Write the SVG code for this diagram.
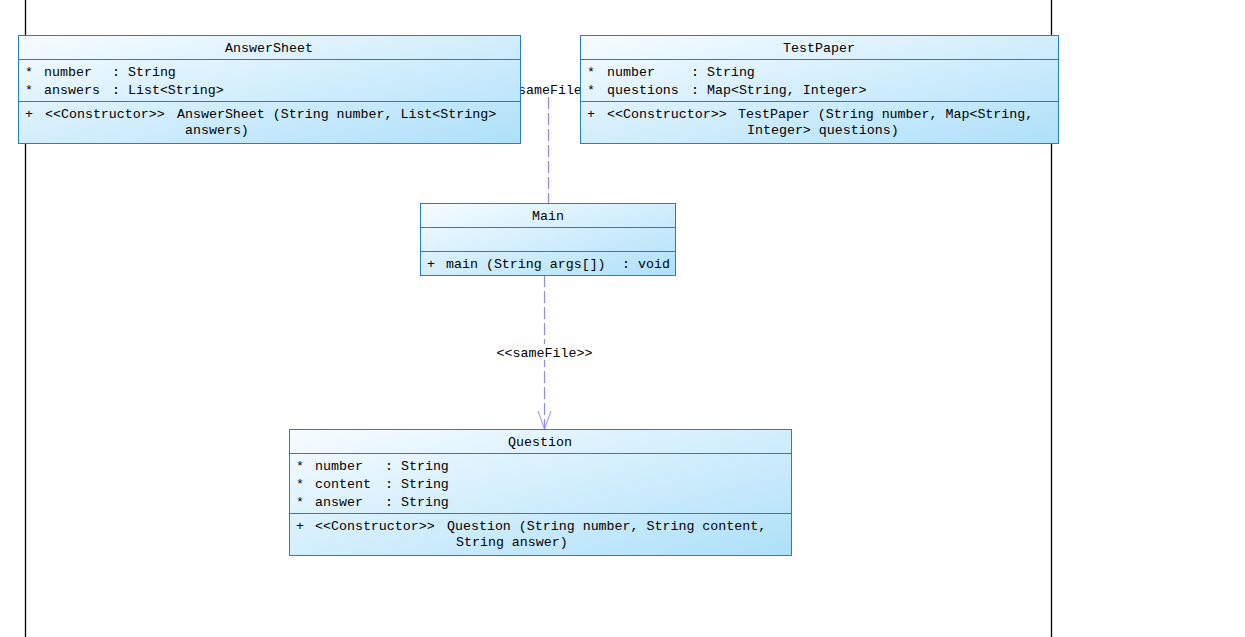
<svg xmlns="http://www.w3.org/2000/svg" width="1245" height="637" viewBox="0 0 1245 637">
<defs>
<linearGradient id="boxfill" x1="0" y1="0" x2="1" y2="1">
<stop offset="0" stop-color="#f7fcff"/>
<stop offset="1" stop-color="#aee0fa"/>
</linearGradient>
<marker id="openArrow" markerWidth="20" markerHeight="16" refX="18" refY="8" orient="auto" markerUnits="userSpaceOnUse" viewBox="0 0 20 16">
<path d="M0,1.5 L18,8 L0,14.5" fill="none" stroke="#8a8aff" stroke-width="1"/>
</marker>
</defs>
<style>
.frame{stroke:#000;stroke-width:1.3;fill:none}
.box{fill:url(#boxfill);stroke:#1c7de6;stroke-width:1}
.div{stroke:#1c7de6;stroke-width:1}
text{font-family:"Liberation Mono","DejaVu Sans Mono",monospace;font-size:13.3px;fill:#000}
.c{text-anchor:middle}
.dep{stroke:#8a8aff;stroke-width:1.2;fill:none;stroke-dasharray:12 4}
.lblbg{fill:#fff}
</style>
<rect x="0" y="0" width="1245" height="637" fill="#fff"/>
<g id="frame">
<line class="frame" x1="25.5" y1="0" x2="25.5" y2="637"/>
<line class="frame" x1="1051.5" y1="0" x2="1051.5" y2="637"/>
</g>
<g id="connectors">
<line class="dep" x1="548.5" y1="97" x2="548.5" y2="203"/>
<rect class="lblbg" x="517" y="81" width="63" height="16"/>
<text x="518" y="93.5">sameFile</text>
<line class="dep" x1="544.5" y1="275" x2="544.5" y2="429" marker-end="url(#openArrow)"/>
<rect class="lblbg" x="495" y="344" width="99" height="16"/>
<text class="c" x="544.5" y="356.5">&lt;&lt;sameFile&gt;&gt;</text>
</g>
<g id="AnswerSheet">
<rect class="box" x="18.5" y="35.5" width="502" height="108"/>
<line class="div" x1="18.5" y1="59.5" x2="520.5" y2="59.5"/>
<line class="div" x1="18.5" y1="101.5" x2="520.5" y2="101.5"/>
<text class="c" x="269" y="51.5">AnswerSheet</text>
<text x="25" y="75.5">*</text><text x="44" y="75.5">number</text><text x="112" y="75.5">: String</text>
<text x="25" y="93.5">*</text><text x="44" y="93.5">answers</text><text x="112" y="93.5">: List&lt;String&gt;</text>
<text x="25" y="117.5">+</text><text x="45" y="117.5">&lt;&lt;Constructor&gt;&gt;</text><text x="177" y="117.5">AnswerSheet (String number, List&lt;String&gt;</text>
<text x="185" y="133.5">answers)</text>
</g>
<g id="TestPaper">
<rect class="box" x="580.5" y="35.5" width="478" height="108"/>
<line class="div" x1="580.5" y1="59.5" x2="1058.5" y2="59.5"/>
<line class="div" x1="580.5" y1="101.5" x2="1058.5" y2="101.5"/>
<text class="c" x="819" y="51.5">TestPaper</text>
<text x="587" y="75.5">*</text><text x="607" y="75.5">number</text><text x="691" y="75.5">: String</text>
<text x="587" y="93.5">*</text><text x="607" y="93.5">questions</text><text x="691" y="93.5">: Map&lt;String, Integer&gt;</text>
<text x="587" y="117.5">+</text><text x="607" y="117.5">&lt;&lt;Constructor&gt;&gt;</text><text x="738" y="117.5">TestPaper (String number, Map&lt;String,</text>
<text x="747" y="133.5">Integer&gt; questions)</text>
</g>
<g id="Main">
<rect class="box" x="420.5" y="203.5" width="255" height="72"/>
<line class="div" x1="420.5" y1="227.5" x2="675.5" y2="227.5"/>
<line class="div" x1="420.5" y1="251.5" x2="675.5" y2="251.5"/>
<text class="c" x="548" y="219.5">Main</text>
<text x="427" y="267.5">+</text><text x="446" y="267.5">main (String args[])</text><text x="622" y="267.5">: void</text>
</g>
<g id="Question">
<rect class="box" x="289.5" y="429.5" width="502" height="126"/>
<line class="div" x1="289.5" y1="453.5" x2="791.5" y2="453.5"/>
<line class="div" x1="289.5" y1="513.5" x2="791.5" y2="513.5"/>
<text class="c" x="540" y="445.5">Question</text>
<text x="296" y="469.5">*</text><text x="315" y="469.5">number</text><text x="385" y="469.5">: String</text>
<text x="296" y="487.5">*</text><text x="315" y="487.5">content</text><text x="385" y="487.5">: String</text>
<text x="296" y="505.5">*</text><text x="315" y="505.5">answer</text><text x="385" y="505.5">: String</text>
<text x="296" y="529.5">+</text><text x="315" y="529.5">&lt;&lt;Constructor&gt;&gt;</text><text x="447" y="529.5">Question (String number, String content,</text>
<text x="456" y="545.5">String answer)</text>
</g>
</svg>
